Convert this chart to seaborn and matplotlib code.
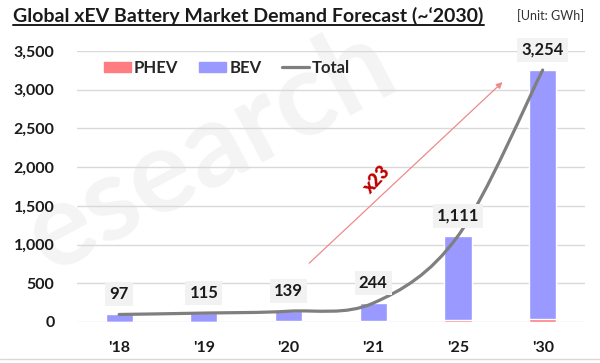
import numpy as np
import pandas as pd
import matplotlib
matplotlib.use("Agg")
import matplotlib.pyplot as plt
import seaborn as sns
from matplotlib.path import Path
from matplotlib.patches import PathPatch, Patch
from matplotlib.lines import Line2D

# ── Data ─────────────────────────────────────────────────────────────────────
years = ["'18", "'19", "'20", "'21", "'25", "'30"]
total = [97, 115, 139, 244, 1111, 3254]
phev = [5, 6, 8, 12, 25, 40]
bev = [t - p for t, p in zip(total, phev)]

y_ticks = [0, 500, 1000, 1500, 2000, 2500, 3000, 3500]

# colours
c_bev = "#9999FF"
c_phev = "#FF7C80"
c_total = "#7F7F7F"
c_grid = "#D9D9D9"

sns.set_style("white")
plt.rcParams["font.family"] = ["Lato", "DejaVu Sans"]

df = pd.DataFrame({"year": years, "total": total, "phev": phev, "bev": bev})

fig = plt.figure(figsize=(6, 3.63), dpi=100)
ax = fig.add_axes([0.128, 0.113, 0.847, 0.7465])
ax.set_facecolor("none")

# watermark (kept inside the figure)
ax.text(0.35, 0.585, "esearch", transform=fig.transFigure, rotation=28,
        fontsize=84, fontweight="bold", color="#F4F4F4",
        ha="center", va="center", zorder=0.1)

# stacked bars: BEV on top of PHEV
sns.barplot(data=df, x="year", y="total", color=c_bev, width=0.32,
            saturation=1, ax=ax, zorder=2)
sns.barplot(data=df, x="year", y="phev", color=c_phev, width=0.32,
            saturation=1, ax=ax, zorder=3)

# smoothed total line (Catmull-Rom -> cubic Bezier, like Excel's smoothing)
xs = np.arange(len(total))
pts = list(zip(xs, total))
verts = [pts[0]]
codes = [Path.MOVETO]
for i in range(len(pts) - 1):
    p0 = pts[i - 1] if i > 0 else pts[i]
    p1, p2 = pts[i], pts[i + 1]
    p3 = pts[i + 2] if i + 2 < len(pts) else pts[i + 1]
    c1 = (p1[0] + (p2[0] - p0[0]) / 6, p1[1] + (p2[1] - p0[1]) / 6)
    c2 = (p2[0] - (p3[0] - p1[0]) / 6, p2[1] - (p3[1] - p1[1]) / 6)
    verts += [c1, c2, p2]
    codes += [Path.CURVE4] * 3
ax.add_patch(PathPatch(Path(verts, codes), fc="none", ec=c_total, lw=2.3,
                       capstyle="round", zorder=4))

# data labels
for i, v in enumerate(total):
    ax.annotate(f"{v:,}", (i, v), xytext=(0, 14.5), textcoords="offset points",
                ha="center", va="center", fontsize=12, fontweight="bold",
                color="#1A1A1A", zorder=6,
                bbox=dict(boxstyle="square,pad=0.25", fc="#F2F2F2", ec="none"))

# growth arrow
ax.annotate("", xy=(4.55, 3123), xytext=(2.22, 735),
            arrowprops=dict(arrowstyle="-|>", color="#EE8A8A", lw=0.9,
                            mutation_scale=9), zorder=5)
ax.text(3.04, 1832, "x23", rotation=47, color="#C00000", fontsize=13,
        fontweight="heavy", ha="center", va="center", zorder=5)

# axes styling
ax.set_xlim(-0.5, 5.5)
ax.set_ylim(0, 3500)
ax.set_yticks(y_ticks)
ax.set_yticklabels([f"{t:,}" for t in y_ticks])
ax.set_xlabel("")
ax.set_ylabel("")
ax.grid(axis="y", color=c_grid, lw=1)
ax.set_axisbelow(True)
for s in ax.spines.values():
    s.set_visible(False)
ax.tick_params(axis="y", length=0, pad=16, labelsize=11.5)
ax.tick_params(axis="x", length=0, pad=14, labelsize=11.5)
for lab in ax.get_xticklabels() + ax.get_yticklabels():
    lab.set_fontweight("bold")
    lab.set_color("#1A1A1A")

# legend
handles = [Patch(color=c_phev, label="PHEV"),
           Patch(color=c_bev, label="BEV"),
           Line2D([], [], color=c_total, lw=2.3, label="Total")]
leg = ax.legend(handles=handles, ncol=3, frameon=False, loc="center left",
                bbox_to_anchor=(0.024, 0.937), handlelength=1.6,
                handleheight=0.6, handletextpad=0.2, columnspacing=1.25,
                prop={"size": 12, "weight": "bold"})

# title + unit
title = fig.text(0.022, 0.939, "Global xEV Battery Market Demand Forecast (~\u20182030)",
                 fontsize=14, fontweight="bold", color="#1A1A1A",
                 ha="left", va="baseline")
fig.text(0.973, 0.956, "[Unit: GWh]", fontsize=9, color="#333333",
         ha="right", va="center")

fig.canvas.draw()
bb = title.get_window_extent(fig.canvas.get_renderer()).transformed(fig.transFigure.inverted())
fig.add_artist(Line2D([bb.x0, bb.x1], [0.932, 0.932],
                      transform=fig.transFigure, color="#1A1A1A", lw=1.4))

# bottom frame line
fig.add_artist(Line2D([0, 1], [0.011, 0.011], transform=fig.transFigure,
                      color=c_grid, lw=1))

fig.savefig("out.png", dpi=100)
